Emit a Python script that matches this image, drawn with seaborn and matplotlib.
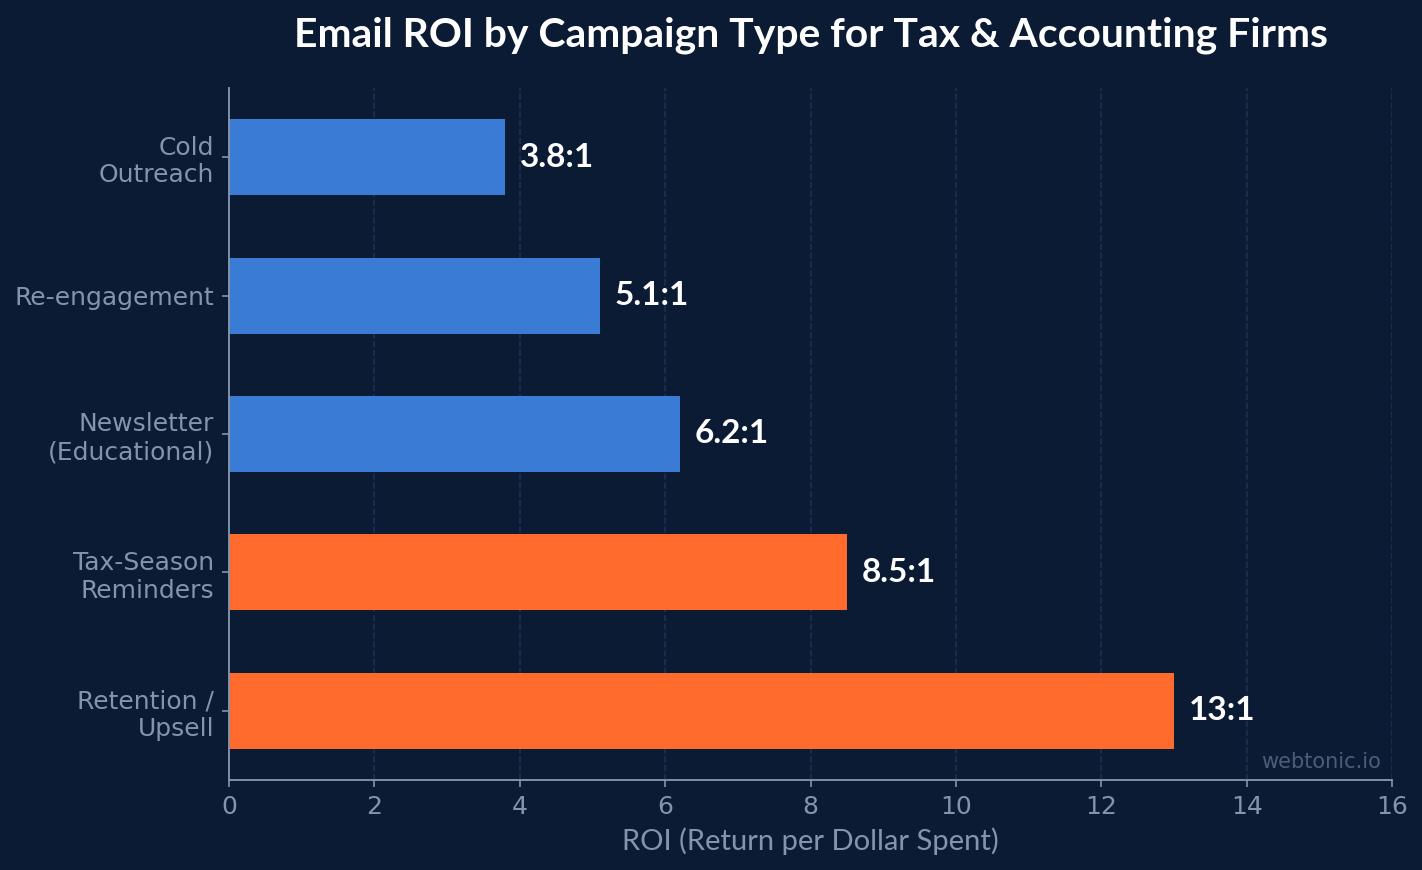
import seaborn as sns
import matplotlib.pyplot as plt
import pandas as pd

# dati
campaigns = ['Cold\nOutreach', 'Re-engagement', 'Newsletter\n(Educational)',
             'Tax-Season\nReminders', 'Retention /\nUpsell']
roi = [3.8, 5.1, 6.2, 8.5, 13]
labels = ['3.8:1', '5.1:1', '6.2:1', '8.5:1', '13:1']
colors = ['#3a7bd5', '#3a7bd5', '#3a7bd5', '#ff6b2c', '#ff6b2c']

bg = '#0b1b34'
muted = '#8494ab'

df = pd.DataFrame({'campaign': campaigns, 'roi': roi})

fig = plt.figure(figsize=(9.48, 5.8), dpi=150, facecolor=bg)
ax = fig.add_axes([0.161, 0.1034, 0.818, 0.7955])
ax.set_facecolor(bg)

sns.barplot(data=df, x='roi', y='campaign', hue='campaign', palette=colors,
            legend=False, width=0.55, ax=ax, saturation=1)

for v, t, y in zip(roi, labels, range(len(roi))):
    ax.text(v + 0.2, y, t, va='center', ha='left', color='white',
            fontsize=16, fontweight='bold', family='Lato')

ax.set_xlim(0, 16)
ax.set_xticks(range(0, 17, 2))
ax.grid(axis='x', color='#1f3050', linestyle='--', linewidth=0.8)
ax.set_axisbelow(True)
for s in ['top', 'right']:
    ax.spines[s].set_visible(False)
for s in ['left', 'bottom']:
    ax.spines[s].set_color(muted)
    ax.spines[s].set_linewidth(0.9)
ax.tick_params(colors=muted, labelsize=12, length=3.5)
ax.set_ylabel('')
ax.set_xlabel('ROI (Return per Dollar Spent)', color=muted, fontsize=14, family='Lato')
ax.set_title('Email ROI by Campaign Type for Tax & Accounting Firms', color='white',
             fontsize=19.6, fontweight='bold', family='Lato', pad=20)
ax.text(0.99, 0.012, 'webtonic.io', transform=ax.transAxes, ha='right', va='bottom',
        color='#4b5d78', fontsize=10)

plt.savefig('out.png', dpi=150, facecolor=bg)
